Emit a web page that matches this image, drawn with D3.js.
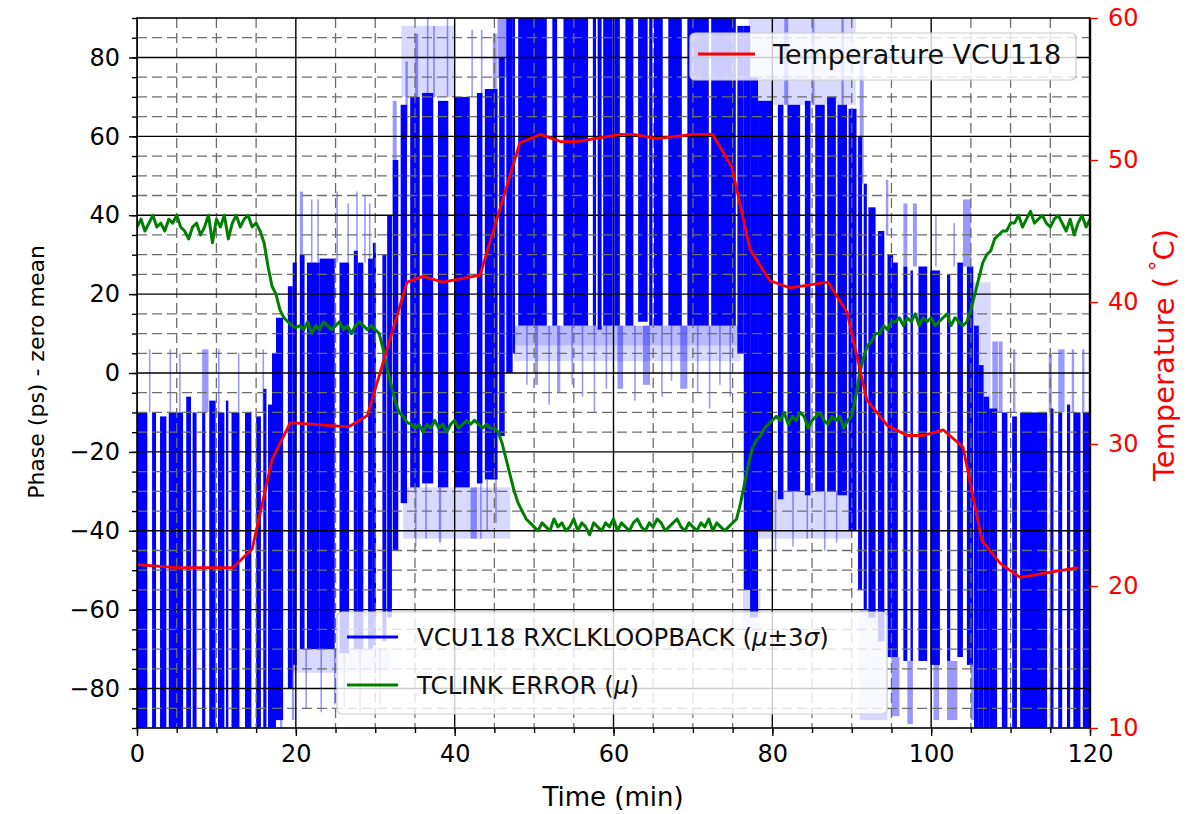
<!DOCTYPE html>
<html>
<head>
<meta charset="utf-8">
<script src="https://cdn.jsdelivr.net/npm/d3@7"></script>
<style>
	body { margin: 0; background: #fff; }
	svg { display: block; }
	text { font-family: 'DejaVu Sans', sans-serif; }
</style>
</head>
<body>
<svg width="1204" height="814"></svg>
<script>
// Temperature VCU118 (right axis, degC), sampled about every 2.5 min
const tempTime = [0, 5, 12.1, 14.5, 17, 19.3, 26.6, 29, 34, 36, 38.5, 43.2, 48.2, 50.8, 53.3, 55.4, 60.8, 62.5, 65.5, 70, 72.5, 74.9, 77.2, 79.7, 82.2, 87, 89.4, 91.9, 94.5, 97, 99, 101.5, 104, 106.4, 108.7, 111.2, 118.5];
const tempValue = [21.5, 21.3, 21.3, 22.6, 28.9, 31.5, 31.2, 32.0, 41.4, 41.8, 41.4, 41.9, 51.2, 51.8, 51.3, 51.3, 51.8, 51.8, 51.5, 51.8, 51.8, 49.5, 43.7, 41.5, 41.0, 41.4, 39.3, 33.1, 31.3, 30.6, 30.6, 31.0, 29.8, 23.2, 21.6, 20.6, 21.3];

// TCLINK error mean (left axis, ps), one value every 0.5 min from 0 to 120
const errorStep = 0.5;
const errorValue = [
	37, 39, 36, 38, 40, 37, 38, 36, 39, 38, 40, 37, 36, 34, 37, 38, 35, 37, 40, 33, 39, 37, 40, 34, 38, 40, 37, 39, 40, 37, 38,
	36, 33, 27, 22, 20, 16, 14, 13, 12, 11.5,
	12, 11, 13, 10, 12, 11, 13, 12, 11, 12, 13, 11, 12, 10, 12, 13, 12, 11, 12, 11, 10,
	6, 1, -3, -7, -10, -11, -12.5, -13,
	-14, -13, -15, -13, -14, -12, -14, -13, -15, -13, -12, -14, -13, -12, -13, -12, -13, -14, -13, -14,
	-14, -15, -18, -22, -26, -30, -33, -35, -37, -38, -39,
	-40, -38, -39, -40, -37, -39, -38, -40, -39, -37, -40, -38, -39, -41, -38, -39, -40, -38, -39, -37, -40, -38, -39, -40, -38,
	-37, -39, -40, -38, -39, -37, -38, -40, -39, -38, -37, -39, -40, -38, -39, -40, -38, -39, -37, -40, -38, -39, -40, -39, -38,
	-37, -33, -28, -23, -19, -17, -16, -14, -13, -12,
	-11, -12, -10, -13, -11, -12, -10, -11, -14, -12, -11, -10, -12, -13, -11, -12, -11, -14, -12,
	-11, -6, 0, 4, 7, 8, 10, 10, 12, 11, 13,
	13, 14, 12, 14, 13, 15, 12, 14, 13, 14, 12, 13, 14, 15, 12, 14, 13, 12, 13,
	16, 20, 24, 28, 30, 31, 34, 35, 36, 36, 38,
	38, 40, 37, 39, 41, 38, 39, 40, 38, 37, 39, 40, 38, 36, 39, 35, 38, 40, 37, 39
];

// VCU118 RXCLKLOOPBACK phase, mu +- 3 sigma strokes: [start min, end min, top ps, bottom ps]
const phaseDark = [
	[0.0, 1.3, -10, -100], [1.9, 2.4, -10, -100], [2.9, 3.7, -11, -100], [4.0, 5.8, -10, -100], [6.2, 6.8, -6, -100],
	[7.0, 7.5, -10, -100], [8.2, 8.6, -10, -100], [9.1, 9.9, -7, -100], [10.2, 11.0, -10, -100], [11.2, 11.5, -7, -100],
	[11.9, 12.9, -10, -100], [13.6, 14.4, -10, -100], [15.0, 15.6, -11, -100], [15.9, 16.3, -4, -100], [16.5, 17.0, -8, -100],
	[17.0, 17.5, 5, -95], [17.5, 18.4, 14, -88], [19.0, 19.6, 22, -80], [19.6, 20.1, 28, -74], [20.5, 21.1, 30, -70],
	[21.4, 23.0, 28, -70], [23.0, 24.9, 29, -70], [25.5, 26.7, 28, -71], [27.3, 27.8, 31, -70], [27.8, 28.5, 28, -70],
	[29.1, 29.7, 29, -70], [29.7, 30.1, 33, -69], [30.9, 31.4, 30, -68], [31.5, 32.1, 40, -62], [32.2, 32.9, 54, -45],
	[33.2, 34.0, 68, -33], [34.4, 35.6, 70, -29], [35.9, 37.3, 71, -28], [37.9, 39.2, 69, -29], [40.0, 41.9, 70, -29],
	[42.8, 43.5, 71, -28], [43.8, 45.4, 72, -27], [45.6, 46.3, 80, -16], [46.5, 47.3, 95, 0],
	[47.3, 47.6, 100, 5], [48.0, 51.6, 100, 12], [52.3, 52.9, 100, 12], [53.7, 56.8, 100, 12], [57.4, 57.8, 100, 12],
	[58.0, 58.5, 100, 11], [58.7, 59.9, 100, 12], [60.1, 60.8, 100, 12], [61.5, 62.5, 100, 12], [63.1, 64.3, 100, 13],
	[64.5, 64.9, 100, 12], [65.1, 66.2, 100, 12], [66.9, 68.6, 100, 12], [69.3, 72.0, 100, 12], [72.3, 75.4, 100, 12],
	[75.6, 76.4, 88, 5],
	[76.4, 77.2, 88, -55], [77.2, 78.2, 75, -62], [78.2, 80.0, 69, -40], [80.7, 81.4, 68, -32], [81.9, 83.5, 68, -30],
	[84.1, 84.8, 69, -31], [85.4, 86.6, 68, -30], [86.9, 88.0, 70, -30], [88.2, 89.4, 68, -31], [89.6, 90.6, 67, -40],
	[90.8, 91.3, 60, -55], [91.5, 91.9, 48, -60], [92.1, 93.0, 42, -62], [93.3, 94.1, 36, -68], [94.5, 95.2, 30, -72],
	[95.2, 95.8, 28, -72], [96.5, 97.0, 27, -73], [97.4, 97.7, 26, -73], [98.4, 99.5, 27, -73], [99.9, 101.1, 26, -74],
	[102.0, 102.4, 25, -73], [103.3, 104.0, 28, -72], [104.5, 105.3, 27, -74], [105.4, 106.0, 12, -100], [106.0, 106.6, 2, -100],
	[106.6, 107.3, -6, -100],
	[107.3, 108.3, -9, -100], [108.9, 109.6, -10, -100], [110.2, 110.8, -11, -100], [111.2, 114.6, -10, -100], [115.0, 115.4, -9, -100],
	[116.0, 116.5, -10, -100], [117.1, 117.5, -8, -100], [117.9, 118.8, -10, -100], [119.1, 120.0, -10, -100]
];

// Outliers beyond the 3 sigma band (the pale spikes): [start, end, top, bottom]
const phaseSpikes = [
	[1.5, 1.7, 6, -10], [4.1, 4.3, 6, -10], [5.3, 5.5, 5, -10], [8.2, 9.0, 6, -10], [10.2, 10.4, 6, -10], [12.7, 12.9, 5, -10], [15.8, 16.0, 6, -10],
	[20.5, 20.9, 46, 28], [21.9, 22.1, 44, 28], [22.7, 22.9, 44, 28], [25.1, 25.3, 46, 28], [26.5, 26.7, 43, 28], [27.6, 27.8, 46, 28],
	[28.6, 28.8, 45, 28], [29.2, 29.4, 43, 28], [32.2, 32.7, 69, 40], [33.8, 34.1, 79, 60], [35.0, 35.4, 86, 68],
	[18.0, 18.3, -84, -90], [19.5, 19.8, -74, -88], [21.2, 21.4, -70, -85], [23.1, 23.3, -70, -86], [24.8, 25.0, -70, -84],
	[26.0, 26.2, -70, -85], [28.0, 28.2, -70, -86], [30.5, 30.7, -70, -84],
	[36.5, 36.7, 90, 70], [37.3, 37.5, 88, 70], [39.0, 39.2, 90, 70], [42.1, 42.3, 87, 70], [43.3, 43.5, 87, 70], [44.8, 45.3, 86, 70], [45.4, 47.5, 100, 75],
	[35.0, 35.2, -28, -44], [36.3, 36.5, -28, -42], [38.0, 38.3, -29, -43], [42.0, 42.8, -29, -42], [43.2, 43.4, -28, -42], [44.0, 44.2, -27, -40], [45.1, 45.3, -25, -38],
	[49.0, 49.2, 12, -3], [50.1, 50.5, 12, -3], [51.8, 52.0, 12, -8], [52.9, 53.3, 12, -5], [54.7, 54.9, 12, -3], [56.0, 56.2, 12, -6],
	[57.5, 57.7, 12, -10], [59.0, 59.2, 12, -4], [60.5, 61.2, 12, -4], [62.6, 62.8, 12, -7], [63.7, 64.6, 12, -3], [66.0, 66.2, 12, -6],
	[67.2, 67.4, 12, -2], [68.4, 69.3, 12, -4], [70.5, 70.7, 12, -5], [72.0, 72.2, 12, -9], [73.3, 73.5, 12, -3], [74.6, 74.8, 12, -6],
	[81.5, 82.0, 90, 68], [85.0, 85.3, 90, 68], [88.7, 89.0, 90, 68],
	[80.3, 80.5, -30, -45], [82.5, 82.7, -30, -44], [84.3, 84.5, -30, -42], [86.5, 86.7, -30, -45], [88.0, 88.2, -30, -43],
	[91.0, 91.5, 80, 48], [94.3, 94.6, 49, 35], [96.5, 97.0, 43, 27], [97.7, 98.2, 43, 27], [100.5, 100.7, 40, 27], [102.8, 103.0, 38, 27], [104.0, 105.0, 44, 27],
	[95.0, 96.0, -72, -87], [97.0, 97.7, -73, -89], [100.3, 101.0, -73, -88], [102.0, 103.3, -73, -88], [105.0, 105.8, -74, -88],
	[107.7, 108.4, 8, -10], [108.5, 109.0, 8, -10], [110.3, 110.6, 6, -10], [114.8, 115.2, 5, -10], [116.0, 116.8, 6, -10], [117.7, 118.0, 6, -10], [119.0, 119.3, 6, -10]
];

// Faint haze of the band edges: [start, end, top, bottom]
const phaseHaze = [
	[19.0, 32.0, -70, -76], [33.3, 40.0, 88, 70], [33.5, 47.0, -29, -42], [47.5, 76.0, 12, 3], [47.5, 76.0, 12, 7], [77.0, 90.5, 90, 68],
	[78.0, 90.0, -30, -42], [76.3, 78.5, -55, -70], [91.0, 94.5, -60, -88], [105.3, 107.5, 23, -10]
];

const xTicks = [0, 20, 40, 60, 80, 100, 120];
const yTicks = [-80, -60, -40, -20, 0, 20, 40, 60, 80];
const tempTicks = [10, 20, 30, 40, 50, 60];

let svg = d3.select('svg');

let plotL = 137, plotR = 1090, plotT = 18, plotB = 728; // plot area

let x = d3.scaleLinear().domain([0, 120]).range([plotL, plotR]);
let y = d3.scaleLinear().domain([-90, 90]).range([plotB, plotT]);
let yT = d3.scaleLinear().domain([10, 60]).range([plotB, plotT]);

svg.append('defs').append('clipPath').attr('id', 'plotClip')
	.append('rect').attr('x', plotL).attr('y', plotT).attr('width', plotR - plotL).attr('height', plotB - plotT);

let plot = svg.append('g').attr('clip-path', 'url(#plotClip)');

// Draws a list of [t0, t1, top, bottom] blocks
function drawBlocks(data, fill, opacity)
{
	plot.append('g').selectAll('rect').data(data).enter()
		.append('rect')
		.attr('x', d => x(d[0]))
		.attr('width', d => Math.max(1.2, x(d[1]) - x(d[0])))
		.attr('y', d => y(d[2]))
		.attr('height', d => y(d[3]) - y(d[2]))
		.attr('fill', fill)
		.attr('fill-opacity', opacity);
}

drawBlocks(phaseHaze, '#0000ff', 0.15);
drawBlocks(phaseSpikes, '#0000ff', 0.4);
drawBlocks(phaseDark, '#0000ff', 1);

// Grid: minor dashed every 5, major solid every 20
let minorX = d3.range(5, 120, 5).filter(v => v % 20 != 0);
let minorY = d3.range(-85, 90, 5).filter(v => v % 20 != 0);
let grid = plot.append('g');
grid.selectAll('.mx').data(minorX).enter().append('line')
	.attr('x1', d => x(d)).attr('x2', d => x(d)).attr('y1', plotT).attr('y2', plotB)
	.attr('stroke', '#6e6e6e').attr('stroke-width', 1.3).attr('stroke-dasharray', '10,5');
grid.selectAll('.my').data(minorY).enter().append('line')
	.attr('x1', plotL).attr('x2', plotR).attr('y1', d => y(d)).attr('y2', d => y(d))
	.attr('stroke', '#6e6e6e').attr('stroke-width', 1.3).attr('stroke-dasharray', '10,5');
grid.selectAll('.Mx').data(xTicks).enter().append('line')
	.attr('x1', d => x(d)).attr('x2', d => x(d)).attr('y1', plotT).attr('y2', plotB)
	.attr('stroke', '#000').attr('stroke-width', 1.4);
grid.selectAll('.My').data(yTicks).enter().append('line')
	.attr('x1', plotL).attr('x2', plotR).attr('y1', d => y(d)).attr('y2', d => y(d))
	.attr('stroke', '#000').attr('stroke-width', 1.4);

// TCLINK error line
plot.append('path')
	.datum(errorValue)
	.attr('d', d3.line().x((d, i) => x(i * errorStep)).y(d => y(d)))
	.attr('fill', 'none').attr('stroke', '#008000').attr('stroke-width', 3).attr('stroke-linejoin', 'round');

// Temperature line on the twin axis
plot.append('path')
	.datum(tempTime)
	.attr('d', d3.line().x(d => x(d)).y((d, i) => yT(tempValue[i])))
	.attr('fill', 'none').attr('stroke', '#ff0000').attr('stroke-width', 2.8).attr('stroke-linejoin', 'round');

// Spines
svg.append('rect').attr('x', plotL).attr('y', plotT).attr('width', plotR - plotL).attr('height', plotB - plotT)
	.attr('fill', 'none').attr('stroke', '#000').attr('stroke-width', 1.6);
svg.append('line').attr('x1', plotR).attr('x2', plotR).attr('y1', plotT).attr('y2', plotB)
	.attr('stroke', '#000').attr('stroke-width', 2.4);

// Axes
function styleAxis(g, color, size)
{
	g.select('.domain').remove();
	g.selectAll('line').attr('stroke', color).attr('stroke-width', 1.4);
	g.selectAll('text').attr('fill', color).attr('font-size', size).attr('font-family', 'DejaVu Sans');
}

let xAxis = svg.append('g').attr('transform', 'translate(0,' + plotB + ')')
	.call(d3.axisBottom(x).tickValues(xTicks).tickSize(8).tickPadding(9));
styleAxis(xAxis, '#000', 24);
let xMinor = svg.append('g').attr('transform', 'translate(0,' + plotB + ')')
	.call(d3.axisBottom(x).tickValues(d3.range(0, 121, 5)).tickSize(5).tickFormat(''));
styleAxis(xMinor, '#000', 24);

let yAxis = svg.append('g').attr('transform', 'translate(' + plotL + ',0)')
	.call(d3.axisLeft(y).tickValues(yTicks).tickSize(8).tickPadding(9));
styleAxis(yAxis, '#000', 24);
let yMinor = svg.append('g').attr('transform', 'translate(' + plotL + ',0)')
	.call(d3.axisLeft(y).tickValues(d3.range(-90, 91, 5)).tickSize(5).tickFormat(''));
styleAxis(yMinor, '#000', 24);

let tAxis = svg.append('g').attr('transform', 'translate(' + plotR + ',0)')
	.call(d3.axisRight(yT).tickValues(tempTicks).tickSize(8).tickPadding(10));
styleAxis(tAxis, '#ff0000', 24);

// Axis labels
svg.append('text').attr('x', 613).attr('y', 806).attr('text-anchor', 'middle')
	.attr('font-size', 26).text('Time (min)');
svg.append('text').attr('transform', 'translate(44,372) rotate(-90)').attr('text-anchor', 'middle')
	.attr('font-size', 22).text('Phase (ps) - zero mean');
let tLabel = svg.append('text').attr('transform', 'translate(1174,355) rotate(-90)').attr('text-anchor', 'middle')
	.attr('font-size', 29).attr('fill', '#ff0000');
tLabel.append('tspan').text('Temperature (\u2009');
tLabel.append('tspan').attr('font-size', 21).attr('dy', -9).text('°');
tLabel.append('tspan').attr('dy', 9).text('C)');

// Legends
function legendBox(x0, y0, w, h)
{
	svg.append('rect').attr('x', x0).attr('y', y0).attr('width', w).attr('height', h).attr('rx', 5)
		.attr('fill', '#fff').attr('fill-opacity', 0.8).attr('stroke', '#ccc').attr('stroke-width', 1.2);
}
function legendLine(x0, x1, yy, color)
{
	svg.append('line').attr('x1', x0).attr('x2', x1).attr('y1', yy).attr('y2', yy)
		.attr('stroke', color).attr('stroke-width', 3);
}

legendBox(690, 33, 386, 47);
legendLine(698, 755, 54, '#ff0000');
svg.append('text').attr('x', 773).attr('y', 54).attr('dy', '0.36em').attr('font-size', 27).attr('fill', '#111')
	.text('Temperature VCU118');

legendBox(337, 612, 550, 102);
legendLine(347, 398, 637, '#0000ff');
legendLine(347, 398, 685, '#008000');
let t1 = svg.append('text').attr('x', 417).attr('y', 637).attr('dy', '0.36em').attr('font-size', 24.5).attr('fill', '#111');
t1.append('tspan').text('VCU118 RXCLKLOOPBACK (');
t1.append('tspan').attr('font-style', 'italic').text('μ');
t1.append('tspan').text('±3');
t1.append('tspan').attr('font-style', 'italic').text('σ');
t1.append('tspan').text(')');
let t2 = svg.append('text').attr('x', 417).attr('y', 685).attr('dy', '0.36em').attr('font-size', 24.5).attr('fill', '#111');
t2.append('tspan').text('TCLINK ERROR (');
t2.append('tspan').attr('font-style', 'italic').text('μ');
t2.append('tspan').text(')');
</script>
</body>
</html>
